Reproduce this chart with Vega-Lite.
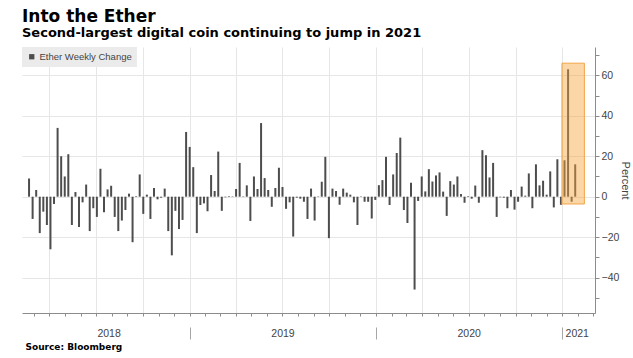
{
  "$schema": "https://vega.github.io/schema/vega-lite/v6.json",
  "width": 573,
  "height": 266,
  "autosize": "none",
  "padding": {"left": 22, "top": 47, "right": 38, "bottom": 45},
  "background": "white",
  "title": {
    "text": "Into the Ether",
    "subtitle": "Second-largest digital coin continuing to jump in 2021",
    "anchor": "start",
    "frame": "group",
    "font": "DejaVu Sans",
    "fontSize": 17,
    "fontWeight": "bold",
    "color": "#000000",
    "subtitleFont": "DejaVu Sans",
    "subtitleFontSize": 13,
    "subtitleFontWeight": "bold",
    "subtitleColor": "#000000",
    "subtitlePadding": 1,
    "offset": 6
  },
  "config": {
    "view": {"stroke": null},
    "axis": {"labelFont": "Liberation Sans", "labelFontSize": 10.5, "labelColor": "#444444", "titleFont": "Liberation Sans"}
  },
  "datasets": {
    "ether": [
      {"date": "2018-02-20", "change": 9},
      {"date": "2018-02-27", "change": -11},
      {"date": "2018-03-06", "change": 3.3},
      {"date": "2018-03-13", "change": -18},
      {"date": "2018-03-20", "change": -7.4},
      {"date": "2018-03-27", "change": -14},
      {"date": "2018-04-03", "change": -26},
      {"date": "2018-04-10", "change": -3.6},
      {"date": "2018-04-17", "change": 34},
      {"date": "2018-04-24", "change": 20},
      {"date": "2018-05-01", "change": 10},
      {"date": "2018-05-08", "change": 21},
      {"date": "2018-05-15", "change": -14},
      {"date": "2018-05-22", "change": 2.3},
      {"date": "2018-05-29", "change": -15},
      {"date": "2018-06-05", "change": -2.8},
      {"date": "2018-06-12", "change": 6},
      {"date": "2018-06-19", "change": -17},
      {"date": "2018-06-26", "change": -5.7},
      {"date": "2018-07-03", "change": -10},
      {"date": "2018-07-10", "change": 13.8},
      {"date": "2018-07-17", "change": -7.7},
      {"date": "2018-07-24", "change": 3.6},
      {"date": "2018-07-31", "change": 5.4},
      {"date": "2018-08-07", "change": -10},
      {"date": "2018-08-14", "change": -17},
      {"date": "2018-08-21", "change": -11.8},
      {"date": "2018-08-28", "change": -6.6},
      {"date": "2018-09-04", "change": 1.5},
      {"date": "2018-09-11", "change": -22.5},
      {"date": "2018-09-18", "change": 0.3},
      {"date": "2018-09-25", "change": 11},
      {"date": "2018-10-02", "change": -8.5},
      {"date": "2018-10-09", "change": 1},
      {"date": "2018-10-16", "change": -11},
      {"date": "2018-10-23", "change": 4.3},
      {"date": "2018-10-30", "change": -1.3},
      {"date": "2018-11-06", "change": -0.5},
      {"date": "2018-11-13", "change": 4},
      {"date": "2018-11-20", "change": -17},
      {"date": "2018-11-27", "change": -29},
      {"date": "2018-12-04", "change": -7},
      {"date": "2018-12-11", "change": -16},
      {"date": "2018-12-18", "change": -11.5},
      {"date": "2018-12-25", "change": 32},
      {"date": "2019-01-01", "change": 24.6},
      {"date": "2019-01-08", "change": 14.6},
      {"date": "2019-01-15", "change": -18},
      {"date": "2019-01-22", "change": -4.1},
      {"date": "2019-01-29", "change": -3.3},
      {"date": "2019-02-05", "change": -7.2},
      {"date": "2019-02-12", "change": 10.7},
      {"date": "2019-02-19", "change": 2.8},
      {"date": "2019-02-26", "change": 22.3},
      {"date": "2019-03-05", "change": -7},
      {"date": "2019-03-12", "change": -0.3},
      {"date": "2019-03-19", "change": 0.3},
      {"date": "2019-03-26", "change": 0.2},
      {"date": "2019-04-02", "change": 3.8},
      {"date": "2019-04-09", "change": 16.7},
      {"date": "2019-04-16", "change": 0.2},
      {"date": "2019-04-23", "change": 5.6},
      {"date": "2019-04-30", "change": -12},
      {"date": "2019-05-07", "change": 10},
      {"date": "2019-05-14", "change": 3.8},
      {"date": "2019-05-21", "change": 36.4},
      {"date": "2019-05-28", "change": 9.2},
      {"date": "2019-06-04", "change": 3.3},
      {"date": "2019-06-11", "change": -5},
      {"date": "2019-06-18", "change": 4.3},
      {"date": "2019-06-25", "change": 14.3},
      {"date": "2019-07-02", "change": 4.8},
      {"date": "2019-07-09", "change": -6},
      {"date": "2019-07-16", "change": -2.8},
      {"date": "2019-07-23", "change": -19.7},
      {"date": "2019-07-30", "change": -0.5},
      {"date": "2019-08-06", "change": -1},
      {"date": "2019-08-13", "change": -2.5},
      {"date": "2019-08-20", "change": -11},
      {"date": "2019-08-27", "change": 4},
      {"date": "2019-09-03", "change": -11.8},
      {"date": "2019-09-10", "change": 0.2},
      {"date": "2019-09-17", "change": 7.4},
      {"date": "2019-09-24", "change": 19.7},
      {"date": "2019-10-01", "change": -20.5},
      {"date": "2019-10-08", "change": 4},
      {"date": "2019-10-15", "change": 2.8},
      {"date": "2019-10-22", "change": -4},
      {"date": "2019-10-29", "change": 4},
      {"date": "2019-11-05", "change": 2},
      {"date": "2019-11-12", "change": 1},
      {"date": "2019-11-19", "change": -2.8},
      {"date": "2019-11-26", "change": -14},
      {"date": "2019-12-03", "change": 0.2},
      {"date": "2019-12-10", "change": -2.5},
      {"date": "2019-12-17", "change": -2.5},
      {"date": "2019-12-24", "change": -10.8},
      {"date": "2019-12-31", "change": -1.6},
      {"date": "2020-01-07", "change": 5.7},
      {"date": "2020-01-14", "change": 8.2},
      {"date": "2020-01-21", "change": 19.7},
      {"date": "2020-01-28", "change": -4.1},
      {"date": "2020-02-04", "change": 11},
      {"date": "2020-02-11", "change": 21.6},
      {"date": "2020-02-18", "change": 29.2},
      {"date": "2020-02-25", "change": -6.6},
      {"date": "2020-03-03", "change": -13},
      {"date": "2020-03-10", "change": 6.9},
      {"date": "2020-03-17", "change": -45.9},
      {"date": "2020-03-24", "change": -2.1},
      {"date": "2020-03-31", "change": 10},
      {"date": "2020-04-07", "change": 2.6},
      {"date": "2020-04-14", "change": 13.6},
      {"date": "2020-04-21", "change": 7.5},
      {"date": "2020-04-28", "change": 10.5},
      {"date": "2020-05-05", "change": 12},
      {"date": "2020-05-12", "change": 2.5},
      {"date": "2020-05-19", "change": -9.5},
      {"date": "2020-05-26", "change": 7.7},
      {"date": "2020-06-02", "change": 6},
      {"date": "2020-06-09", "change": 10},
      {"date": "2020-06-16", "change": 1.3},
      {"date": "2020-06-23", "change": -3},
      {"date": "2020-06-30", "change": 0.3},
      {"date": "2020-07-07", "change": -1},
      {"date": "2020-07-14", "change": 5.5},
      {"date": "2020-07-21", "change": -3},
      {"date": "2020-07-28", "change": 23},
      {"date": "2020-08-04", "change": 20.5},
      {"date": "2020-08-11", "change": 9.5},
      {"date": "2020-08-18", "change": 16.7},
      {"date": "2020-08-25", "change": -10},
      {"date": "2020-09-01", "change": -0.3},
      {"date": "2020-09-08", "change": -0.5},
      {"date": "2020-09-15", "change": -5.7},
      {"date": "2020-09-22", "change": 3.3},
      {"date": "2020-09-29", "change": -6.4},
      {"date": "2020-10-06", "change": -2.5},
      {"date": "2020-10-13", "change": 5},
      {"date": "2020-10-20", "change": 0.5},
      {"date": "2020-10-27", "change": 11.5},
      {"date": "2020-11-03", "change": -5.7},
      {"date": "2020-11-10", "change": 16},
      {"date": "2020-11-17", "change": 5.6},
      {"date": "2020-11-24", "change": 7.9},
      {"date": "2020-12-01", "change": 1},
      {"date": "2020-12-08", "change": 12.5},
      {"date": "2020-12-15", "change": -5.3},
      {"date": "2020-12-22", "change": 18.5},
      {"date": "2020-12-29", "change": -4},
      {"date": "2021-01-05", "change": 18},
      {"date": "2021-01-12", "change": 63},
      {"date": "2021-01-19", "change": -2.5},
      {"date": "2021-01-26", "change": 16}
    ],
    "highlight": [
      {"start": "2020-12-31", "end": "2021-02-13", "low": -3.6, "high": 66}
    ]
  },
  "layer": [
    {
      "data": {"name": "ether"},
      "mark": {"type": "bar", "size": 2},
      "encoding": {
        "x": {
          "field": "date", "type": "temporal",
          "scale": {"type": "utc", "domain": [{"year": 2018, "month": 2, "date": 16, "utc": true}, {"year": 2021, "month": 2, "date": 24, "utc": true}]},
          "axis": {"orient": "bottom", "title": null, "labels": false, "grid": false, "ticks": true, "tickSize": 3, "tickCount": {"interval": "month", "step": 1}, "tickColor": "#8c8c8c", "domain": true, "domainColor": "#8c8c8c"}
        },
        "y": {
          "field": "change", "type": "quantitative",
          "scale": {"domain": [-57.5, 74], "nice": false, "zero": false},
          "axis": {
            "orient": "right",
            "values": [-40, -20, 0, 20, 40, 60],
            "format": "d",
            "labelOverlap": false,
            "grid": true,
            "gridColor": "#e6e6e6",
            "tickSize": 4,
            "tickColor": "#8c8c8c",
            "domainColor": "#8c8c8c",
            "labelPadding": 2,
            "title": "Percent",
            "titleFont": "Liberation Sans",
            "titleFontSize": 11,
            "titleFontWeight": "normal",
            "titleColor": "#444444",
            "titleAngle": 90,
            "titlePadding": 1
          }
        },
        "color": {
          "datum": "Ether Weekly Change", "type": "nominal",
          "scale": {"range": ["#4d4d4d"]},
          "legend": {
            "title": null, "orient": "top-left", "offset": 0, "fillColor": "#ebebeb", "padding": 5,
            "symbolType": "square", "symbolSize": 28, "symbolStrokeWidth": 0, "labelOffset": 3,
            "labelFont": "Liberation Sans", "labelFontSize": 9.5, "labelColor": "#444444"
          }
        }
      }
    },
    {
      "data": {"name": "highlight"},
      "mark": {"type": "rect", "fill": "#f7a33a", "fillOpacity": 0.45, "stroke": "#f3a548", "strokeWidth": 1},
      "encoding": {
        "x": {
          "field": "start", "type": "temporal",
          "scale": {"type": "utc", "domain": [{"year": 2018, "month": 2, "date": 16, "utc": true}, {"year": 2021, "month": 2, "date": 24, "utc": true}]},
          "axis": {"orient": "bottom", "title": null, "labels": false, "ticks": false, "domain": false, "grid": true, "gridColor": "#e6e6e6", "tickCount": {"interval": "month", "step": 3}}
        },
        "x2": {"field": "end"},
        "y": {
          "field": "low", "type": "quantitative",
          "scale": {"domain": [-57.5, 74], "nice": false, "zero": false},
          "axis": {"orient": "right", "values": [-50, -30, -10, 10, 30, 50, 70], "labels": false, "grid": false, "domain": false, "tickSize": 4, "tickColor": "#8c8c8c", "title": null}
        },
        "y2": {"field": "high"}
      }
    },
    {
      "data": {"name": "highlight"},
      "mark": {"type": "rect", "opacity": 0},
      "encoding": {
        "x": {
          "field": "start", "type": "temporal",
          "scale": {"type": "utc", "domain": [{"year": 2018, "month": 2, "date": 16, "utc": true}, {"year": 2021, "month": 2, "date": 24, "utc": true}]},
          "axis": {
            "orient": "bottom", "grid": false, "ticks": false, "tickSize": 0, "domain": false,
            "values": [{"year": 2018, "month": 7, "date": 26, "utc": true}, {"year": 2019, "month": 7, "date": 2, "utc": true}, {"year": 2020, "month": 7, "date": 1, "utc": true}, {"year": 2021, "month": 1, "date": 29, "utc": true}],
            "labelExpr": "utcFormat(datum.value, '%Y')",
            "labelOverlap": false, "labelFlush": false, "labelBound": false,
            "labelPadding": 15,
            "title": "Source: Bloomberg",
            "titleFont": "DejaVu Sans", "titleFontSize": 9, "titleFontWeight": "bold", "titleColor": "#000000",
            "titleAnchor": "start", "titleAlign": "left", "titleBaseline": "alphabetic",
            "titleX": 3, "titleY": 36
          }
        },
        "x2": {"field": "end"},
        "y": {"field": "low", "type": "quantitative", "axis": null},
        "y2": {"field": "high"}
      }
    },
    {
      "data": {"name": "highlight"},
      "mark": {"type": "rect", "opacity": 0},
      "encoding": {
        "x": {
          "field": "start", "type": "temporal",
          "scale": {"type": "utc", "domain": [{"year": 2018, "month": 2, "date": 16, "utc": true}, {"year": 2021, "month": 2, "date": 24, "utc": true}]},
          "axis": {"orient": "bottom", "title": null, "labels": false, "grid": false, "domain": false, "ticks": true, "tickSize": 12, "tickColor": "#a6a6a6", "offset": 14, "tickCount": {"interval": "year", "step": 1}}
        },
        "x2": {"field": "end"},
        "y": {"field": "low", "type": "quantitative", "axis": null},
        "y2": {"field": "high"}
      }
    }
  ],
  "resolve": {"axis": {"x": "independent", "y": "independent"}}
}
